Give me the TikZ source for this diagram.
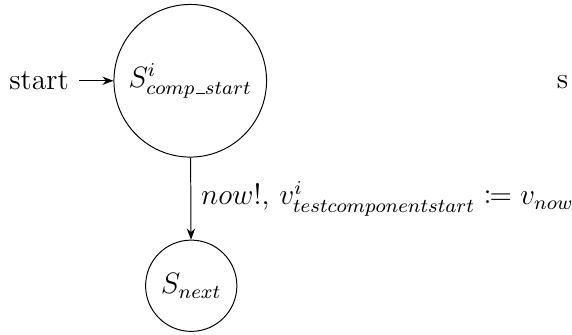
\documentclass[tikz,border=0pt,12pt]{standalone}
\usepackage{amsmath,amssymb,mathtools}
\usepackage{tikz}
\usetikzlibrary{arrows.meta,automata,positioning}
% short underscore, as in the old OT1 fonts
\newcommand{\uscore}{\kern.06em\vbox{\hrule width.3em}}

\begin{document}
\begin{tikzpicture}[>={Stealth[length=4.5pt]},
  every state/.style={draw, circle, minimum size=0pt}]
\useasboundingbox (-77.5pt,32.9pt) rectangle (155.5pt,-103.4pt);
% States
\node[state, initial, initial text={start}, initial distance=14pt] (comp) at (0,0) {$S^{i}_{comp\uscore start}$};
\node[state] (next) at (0.4pt,-83.5pt) {$S_{next}$};
% stray text on the right
\node (s) at (151.7pt,-0.6pt) {s};
% Transition
\draw[->] (comp) -- node[right] {$now!$, $v^{i}_{testcomponentstart} \coloneqq v_{now}$} (next);
\end{tikzpicture}
\end{document}
